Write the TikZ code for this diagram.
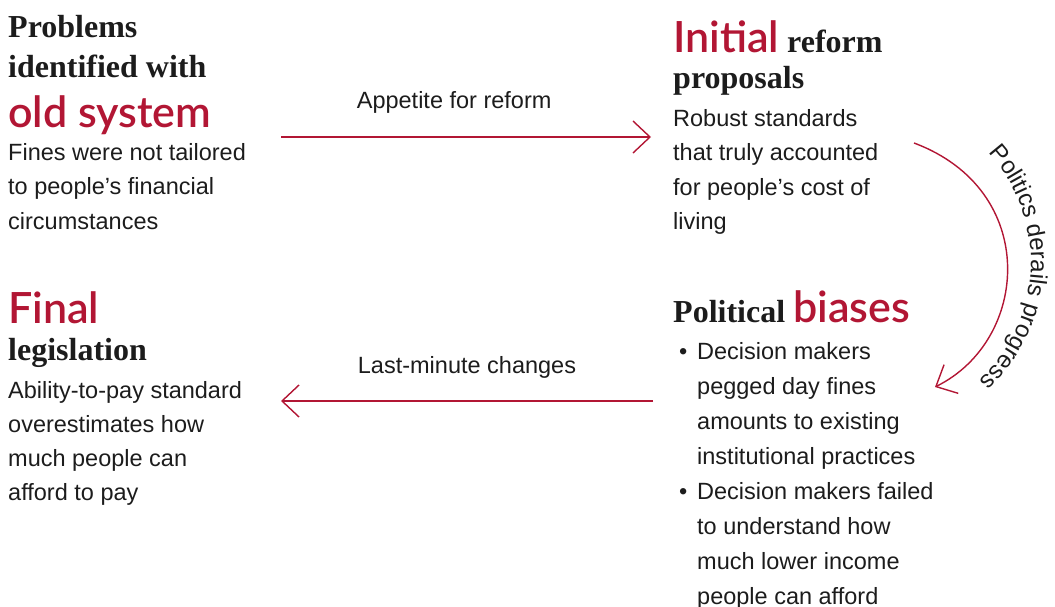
\documentclass[tikz,border=0pt]{standalone}
\usepackage{fontspec}
\usetikzlibrary{arrows.meta,decorations.text}
\newfontfamily\bodyfont{Liberation Sans}
\newfontfamily\headfont{Liberation Serif}
\IfFontExistsTF{Lato Light}{\newfontfamily\redfont{Lato Light}}{%
  \IfFontExistsTF{Fira Sans Light}{\newfontfamily\redfont{Fira Sans Light}}{%
    \IfFontExistsTF{Open Sans Light}{\newfontfamily\redfont{Open Sans Light}}{%
      \IfFontExistsTF{Poppins Light}{\newfontfamily\redfont{Poppins Light}}{%
        \newfontfamily\redfont{Lato}}}}}
\definecolor{crimson}{RGB}{178,22,52}
\definecolor{ink}{RGB}{28,28,28}
\newcommand\redword[1]{{\redfont\fontsize{43}{43}\selectfont\color{crimson}#1}}
\newcommand\bul{\makebox[18pt][l]{\textbullet}}
\newcommand\ind{\hspace*{18pt}}
\tikzset{
  bodytext/.style={font=\bodyfont\fontsize{23.5}{34.5}\selectfont, text=ink, align=left, inner sep=0pt, anchor=base west},
  headtext/.style={font=\headfont\bfseries\fontsize{32}{40}\selectfont, text=ink, align=left, inner sep=0pt, anchor=base west},
  flow/.style={draw=crimson, line width=1.4pt, -{Straight Barb[length=17pt,width=32pt,line width=1.4pt]}},
  edgelabel/.style={font=\bodyfont\fontsize{23.5}{28}\selectfont, text=ink, anchor=base, inner sep=0pt}
}

\begin{document}
\begin{tikzpicture}[x=1pt, y=-1pt]
    \useasboundingbox (0,0) rectangle (1055,606);
    % old system (nodes sit on the baseline of their last line)
    \node[headtext] (oldhead) at (8,77) {Problems\\identified with};
    \node[headtext] (oldred) at (8,127) {\redword{old system}};
    \node[bodytext] (oldbody) at (8,229) {Fines were not tailored\\to people’s financial\\circumstances};
    % initial proposals
    \node[headtext, font=\headfont\bfseries\fontsize{32}{36}\selectfont] (inithead) at (673,88) {\redword{Initial} reform\\proposals};
    \node[bodytext] (initbody) at (673,229.5) {Robust standards\\that truly accounted\\for people’s cost of\\living};
    % political biases
    \node[headtext] (biashead) at (673,322) {Political \redword{biases}};
    \node[bodytext, font=\bodyfont\fontsize{23.5}{35}\selectfont] (biasbody) at (679,604) {\bul Decision makers\\\ind pegged day fines\\\ind amounts to existing\\\ind institutional practices\\\bul Decision makers failed\\\ind to understand how\\\ind much lower income\\\ind people can afford};
    % final legislation
    \node[headtext] (finalred) at (8,323) {\redword{Final}};
    \node[headtext] (finalhead) at (8,360) {legislation};
    \node[bodytext, font=\bodyfont\fontsize{23.5}{34}\selectfont] (finalbody) at (8,500) {Ability-to-pay standard\\overestimates how\\much people can\\afford to pay};

    \coordinate (appS) at (281,137);
    \coordinate (appE) at (651,137);
    \coordinate (lastS) at (653,401);
    \coordinate (lastE) at (281,401);
    \coordinate (polS) at (914,143);
    \coordinate (polE) at (935,387);

    \draw[flow] (appS) -- node[edgelabel, pos=0.468, yshift=29pt] (applabel) {Appetite for reform} (appE);
    \draw[flow] (lastS) -- node[edgelabel, pos=0.5, yshift=28pt] (lastlabel) {Last-minute changes} (lastE);
    \draw[flow] (polS) .. controls (1040,190) and (1030,340) .. (polE);
    \path[decorate, decoration={text along path, text align=center,
        text={|\bodyfont\fontsize{24}{28}\selectfont\color{ink}|Politics derails progress}}]
        (950,121.7) arc[start angle=-60, end angle=65, radius=162];
\end{tikzpicture}
\end{document}
